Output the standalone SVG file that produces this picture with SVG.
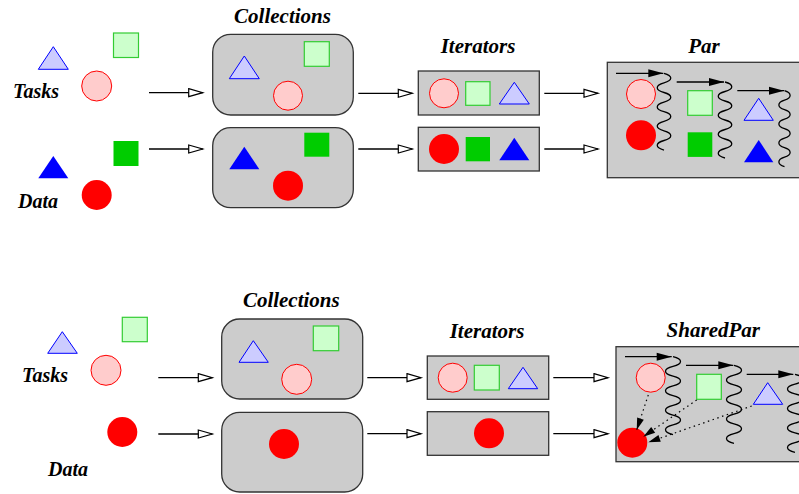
<svg xmlns="http://www.w3.org/2000/svg" width="799" height="494" viewBox="0 0 799 494">
<style>
text{font-family:"Liberation Serif","Times New Roman",serif;font-weight:bold;font-style:italic;fill:#000}
.lab{font-size:20px}
.hd{font-size:21px;text-anchor:middle}
.box{fill:#cccccc;stroke:#333;stroke-width:1.3}
.lt{fill:#ccccff;stroke:#0000ff;stroke-width:1}
.ls{fill:#ccffcc;stroke:#33cc33;stroke-width:1.2}
.lc{fill:#ffcccc;stroke:#ff0000;stroke-width:1}
.dt{fill:#0000ff}
.ds{fill:#00cc00}
.dc{fill:#ff0000}
.ar{stroke:#000;stroke-width:1.3;fill:none;marker-end:url(#open)}
.fa{stroke:#000;stroke-width:1.3;fill:none;marker-end:url(#fill)}
.dot{stroke:#000;stroke-width:1.2;fill:none;stroke-dasharray:1.5 3.5;marker-end:url(#small)}
.wave{stroke:#000;stroke-width:1.3;fill:none}
</style>
<defs>
<marker id="open" markerUnits="userSpaceOnUse" markerWidth="16" markerHeight="10" refX="14" refY="4" orient="auto" overflow="visible">
<path d="M0,0 L14,4 L0,8 z" fill="#fff" stroke="#000" stroke-width="1.2"/>
</marker>
<marker id="fill" markerUnits="userSpaceOnUse" markerWidth="16" markerHeight="10" refX="15" refY="4" orient="auto" overflow="visible">
<path d="M0,0 L15,4 L0,8 z" fill="#000"/>
</marker>
<marker id="small" markerUnits="userSpaceOnUse" markerWidth="13" markerHeight="9" refX="12" refY="3.5" orient="auto" overflow="visible">
<path d="M0,0 L12,3.5 L0,7 z" fill="#000"/>
</marker>
</defs>
<rect width="799" height="494" fill="#fff"/>

<!-- Top section -->
<g id="tasks-top">
<text class="lab" x="13" y="98">Tasks</text>
<polygon class="lt" points="53.3,46.7 38.3,69.3 68.3,69.3"/>
<rect class="ls" x="113.5" y="33" width="25" height="24.5"/>
<circle class="lc" cx="96.7" cy="86" r="15"/>
</g>
<g id="data-top">
<text class="lab" x="18" y="208">Data</text>
<polygon class="dt" points="53.3,156 38.3,178.3 68.3,178.3"/>
<rect class="ds" x="113.5" y="141" width="25" height="25"/>
<circle class="dc" cx="96.7" cy="195" r="15"/>
</g>
<g id="collections-top">
<text class="hd" x="282.5" y="22.5">Collections</text>
<rect class="box" x="212.7" y="34.3" width="140.6" height="80.7" rx="18"/>
<polygon class="lt" points="244.3,56 229.3,78.7 259.3,78.7"/>
<rect class="ls" x="304.3" y="41.7" width="25" height="24.6"/>
<circle class="lc" cx="288" cy="95.7" r="14.5"/>
</g>
<g id="collections-data-top">
<rect class="box" x="212.7" y="127.7" width="140.6" height="80" rx="18"/>
<polygon class="dt" points="244.3,146.7 229.3,169.3 259.3,169.3"/>
<rect class="ds" x="304.3" y="132.7" width="25" height="24"/>
<circle class="dc" cx="288" cy="185.7" r="15"/>
</g>
<g id="iterators-top">
<text class="hd" x="478" y="53">Iterators</text>
<rect class="box" x="418.3" y="71" width="121" height="44"/>
<circle class="lc" cx="444" cy="93.3" r="14.5"/>
<rect class="ls" x="465.7" y="81.7" width="24.3" height="23.6"/>
<polygon class="lt" points="514.3,82.3 499.3,104 529.3,104"/>
</g>
<g id="iterators-data-top">
<rect class="box" x="418.3" y="127.3" width="121" height="43.7"/>
<circle class="dc" cx="444" cy="149" r="15"/>
<rect class="ds" x="465.7" y="137" width="24.3" height="24.3"/>
<polygon class="dt" points="514.3,137.7 499.3,160.3 529.3,160.3"/>
</g>
<g id="par">
<text class="hd" x="704" y="53">Par</text>
<rect class="box" x="607.3" y="62.3" width="200" height="115.4"/>
<circle class="lc" cx="641" cy="94" r="14.5"/>
<circle class="dc" cx="641" cy="135.3" r="15"/>
<rect class="ls" x="687.7" y="90.7" width="24.6" height="24.6"/>
<rect class="ds" x="687.7" y="132.3" width="24.6" height="24.6"/>
<polygon class="lt" points="758.7,98.3 744,120.3 773.3,120.3"/>
<polygon class="dt" points="758.7,140 744,162.3 773.3,162.3"/>
<line class="fa" x1="616" y1="73.3" x2="663.3" y2="73.3"/>
<line class="fa" x1="676.7" y1="82" x2="724" y2="82"/>
<line class="fa" x1="737.3" y1="90.7" x2="784" y2="90.7"/>
<path class="wave" d="M664,73.3 c9,2.4 9,7.2 0,9.6 c-9,2.4 -9,7.2 0,9.6 c9,2.4 9,7.2 0,9.6 c-9,2.4 -9,7.2 0,9.6 c9,2.4 9,7.2 0,9.6 c-9,2.4 -9,7.2 0,9.6 c9,2.4 9,7.2 0,9.6 c-9,2.4 -9,7.2 0,9.6"/>
<path class="wave" d="M725,82 c9,2.4 9,7.1 0,9.5 c-9,2.4 -9,7.1 0,9.5 c9,2.4 9,7.1 0,9.5 c-9,2.4 -9,7.1 0,9.5 c9,2.4 9,7.1 0,9.5 c-9,2.4 -9,7.1 0,9.5 c9,2.4 9,7.1 0,9.5 c-9,2.4 -9,7.1 0,9.5"/>
<path class="wave" d="M784.5,90.7 c7.5,2.4 7.5,7.1 0,9.5 c-7.5,2.4 -7.5,7.1 0,9.5 c7.5,2.4 7.5,7.1 0,9.5 c-7.5,2.4 -7.5,7.1 0,9.5 c7.5,2.4 7.5,7.1 0,9.5 c-7.5,2.4 -7.5,7.1 0,9.5 c7.5,2.4 7.5,7.1 0,9.5 c-7.5,2.4 -7.5,7.1 0,9.5"/>
</g>

<!-- Bottom section -->
<g id="tasks-bottom">
<text class="lab" x="22" y="381.5">Tasks</text>
<polygon class="lt" points="62.3,331.7 47.7,353.3 77.3,353.3"/>
<rect class="ls" x="122.3" y="317.3" width="25" height="24.4"/>
<circle class="lc" cx="106" cy="370.3" r="15"/>
</g>
<g id="data-bottom">
<text class="lab" x="48" y="475.5">Data</text>
<circle class="dc" cx="122.3" cy="432" r="15"/>
</g>
<g id="collections-bottom">
<text class="hd" x="291.3" y="306.5">Collections</text>
<rect class="box" x="221.7" y="319" width="141" height="80" rx="18"/>
<polygon class="lt" points="253.3,340.7 239,362.3 268.3,362.3"/>
<rect class="ls" x="313.3" y="326" width="25.4" height="24.7"/>
<circle class="lc" cx="296.7" cy="379.3" r="15"/>
</g>
<g id="collections-data-bottom">
<rect class="box" x="221.7" y="412.3" width="141" height="79.7" rx="18"/>
<circle class="dc" cx="284" cy="444" r="15"/>
</g>
<g id="iterators-bottom">
<text class="hd" x="487" y="337.5">Iterators</text>
<rect class="box" x="427.3" y="356" width="121.4" height="43.3"/>
<circle class="lc" cx="452.7" cy="377.7" r="14.5"/>
<rect class="ls" x="474.3" y="365.3" width="25" height="24.7"/>
<polygon class="lt" points="523,367.3 508.3,388.7 537.7,388.7"/>
</g>
<g id="iterators-data-bottom">
<rect class="box" x="427.3" y="411.7" width="121.4" height="43.6"/>
<circle class="dc" cx="489" cy="433.3" r="15"/>
</g>
<g id="sharedpar">
<text class="hd" x="713.3" y="336.5">SharedPar</text>
<rect class="box" x="616" y="346.7" width="200" height="115"/>
<circle class="lc" cx="650.7" cy="377.7" r="14.5"/>
<rect class="ls" x="696.7" y="374.3" width="24.6" height="25"/>
<polygon class="lt" points="767.7,382.7 753.3,404.3 782.7,404.3"/>
<circle class="dc" cx="632.3" cy="442.7" r="15"/>
<line class="fa" x1="625" y1="356.7" x2="671.7" y2="356.7"/>
<line class="fa" x1="686" y1="365.3" x2="733.3" y2="365.3"/>
<line class="fa" x1="746.7" y1="374.3" x2="793.3" y2="374.3"/>
<path class="wave" d="M673,356.7 c10,2.4 10,7.3 0,9.75 c-10,2.4 -10,7.3 0,9.75 c10,2.4 10,7.3 0,9.75 c-10,2.4 -10,7.3 0,9.75 c10,2.4 10,7.3 0,9.75 c-10,2.4 -10,7.3 0,9.75 c10,2.4 10,7.3 0,9.75 c-10,2.4 -10,7.3 0,9.75"/>
<path class="wave" d="M734,365.3 c10,2.4 10,7.3 0,9.75 c-10,2.4 -10,7.3 0,9.75 c10,2.4 10,7.3 0,9.75 c-10,2.4 -10,7.3 0,9.75 c10,2.4 10,7.3 0,9.75 c-10,2.4 -10,7.3 0,9.75 c10,2.4 10,7.3 0,9.75 c-10,2.4 -10,7.3 0,9.75"/>
<path class="wave" d="M795,374.3 c10,2.4 10,7.3 0,9.75 c-10,2.4 -10,7.3 0,9.75 c10,2.4 10,7.3 0,9.75 c-10,2.4 -10,7.3 0,9.75 c10,2.4 10,7.3 0,9.75 c-10,2.4 -10,7.3 0,9.75 c10,2.4 10,7.3 0,9.75 c-10,2.4 -10,7.3 0,9.75"/>
<path class="dot" d="M648.3,395 L636.7,430"/>
<path class="dot" d="M696.7,400 L643.3,436.7"/>
<path class="dot" d="M751.7,406 L648.3,442.3"/>
</g>

<g id="connectors">
<line class="ar" x1="149" y1="92.7" x2="202.7" y2="92.7"/>
<line class="ar" x1="149" y1="149" x2="202.7" y2="149"/>
<line class="ar" x1="358.3" y1="93.3" x2="412.3" y2="93.3"/>
<line class="ar" x1="358.3" y1="149" x2="412.3" y2="149"/>
<line class="ar" x1="544.3" y1="93.3" x2="598" y2="93.3"/>
<line class="ar" x1="544.3" y1="149" x2="598" y2="149"/>
<line class="ar" x1="158.3" y1="377.7" x2="212.3" y2="377.7"/>
<line class="ar" x1="158.3" y1="434" x2="212.3" y2="434"/>
<line class="ar" x1="367.3" y1="377.7" x2="421" y2="377.7"/>
<line class="ar" x1="367.3" y1="433.7" x2="421" y2="433.7"/>
<line class="ar" x1="553.3" y1="377.7" x2="608" y2="377.7"/>
<line class="ar" x1="553.3" y1="433.7" x2="608" y2="433.7"/>
</g>
</svg>
